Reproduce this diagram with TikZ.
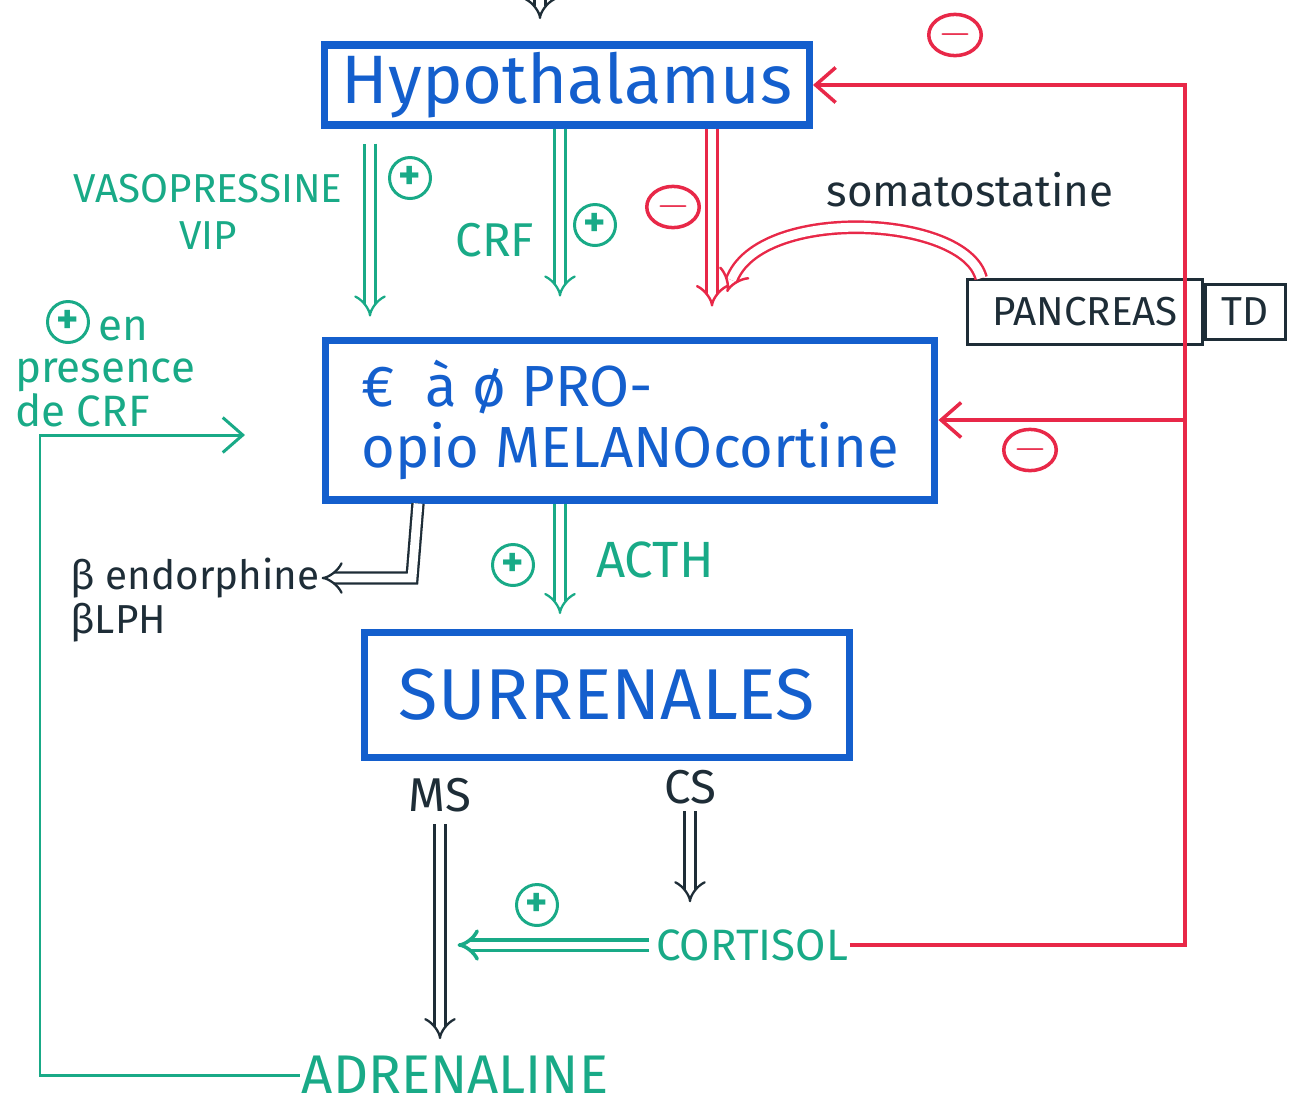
\documentclass[tikz,border=0pt]{standalone}
\usepackage{fontspec}
\setmainfont{Fira Sans}
\usetikzlibrary{arrows.meta,shapes.geometric,calc}
\definecolor{pblue}{RGB}{20,95,205}
\definecolor{pgreen}{RGB}{25,170,135}
\definecolor{pred}{RGB}{232,40,72}
\definecolor{pdark}{RGB}{30,45,55}
\tikzset{
  bigbox/.style={draw=pblue,line width=4pt,rectangle,text=pblue,inner sep=0pt},
  darkbox/.style={draw=pdark,line width=1.6pt,rectangle,text=pdark,inner sep=0pt},
  gdbl/.style={draw=pgreen,double=white,double distance=5pt,line width=1.3pt,-{Implies}},
  rdbl/.style={draw=pred,double=white,double distance=5pt,line width=1.4pt,-{Implies}},
  ddbl/.style={draw=pdark,double=white,double distance=5pt,line width=1.3pt,-{Implies}},
  gline/.style={draw=pgreen,line width=1.7pt},
  rline/.style={draw=pred,line width=2pt},
  plussign/.style={circle,draw=pgreen,line width=1.7pt,text=pgreen,inner sep=0pt,minimum size=0.82cm,font=\fontsize{24}{24}\selectfont\bfseries},
  minussign/.style={ellipse,draw=pred,line width=2pt,text=pred,inner sep=0pt,minimum width=1.05cm,minimum height=0.75cm,font=\fontsize{24}{24}\selectfont\bfseries},
  gtext/.style={text=pgreen,inner sep=1pt},
  dtext/.style={text=pdark,inner sep=1pt},
}
\begin{document}
\begin{tikzpicture}[x=0.02cm,y=-0.02cm]
\useasboundingbox (0,0) rectangle (1300,1106);
% boxes
\node[bigbox,minimum width=9.7cm,minimum height=1.6cm,font=\fontsize{39}{39}\selectfont] (hyp) at (567,85) {Hypothalamus};
\node[bigbox,minimum width=12.2cm,minimum height=3.2cm,align=left,font=\fontsize{33}{35}\selectfont] (pomc) at (630,420) {€\ \ à ø PRO-\\opio MELANOcortine};
\node[bigbox,minimum width=9.7cm,minimum height=2.5cm,font=\fontsize{41}{41}\selectfont] (sur) at (607,695) {SURRENALES};
\node[darkbox,minimum width=4.7cm,minimum height=1.3cm,font=\fontsize{23}{23}\selectfont] (panc) at (1085,312) {PANCREAS};
\node[darkbox,minimum width=1.6cm,minimum height=1.1cm,font=\fontsize{23}{23}\selectfont,anchor=west] (td) at (panc.east) {TD};
% labels
\node[gtext,align=center,font=\fontsize{23}{27}\selectfont] (vaso) at (208,212) {VASOPRESSINE\\VIP};
\node[gtext,font=\fontsize{27}{27}\selectfont] (crf) at (495,240) {CRF};
\node[dtext,font=\fontsize{25}{25}\selectfont] (soma) at (970,190) {somatostatine};
\node[gtext,align=left,font=\fontsize{25}{24}\selectfont] (enp) at (105,372) {\hspace*{1.9em}en\\presence\\de CRF};
\node[dtext,align=left,font=\fontsize{23}{25}\selectfont] (bend) at (195,600) {β endorphine\\βLPH};
\node[gtext,font=\fontsize{29}{29}\selectfont] (acth) at (655,560) {ACTH};
\node[dtext,font=\fontsize{27}{27}\selectfont] (ms) at (440,795) {MS};
\node[dtext,font=\fontsize{27}{27}\selectfont] (cs) at (690,787) {CS};
\node[gtext,font=\fontsize{25}{25}\selectfont] (cort) at (752,945) {CORTISOL};
\node[gtext,font=\fontsize{31}{31}\selectfont] (adr) at (455,1075) {ADRENALINE};
% signs
\node[plussign] (p1) at (410,178) {+};
\node[plussign] (p2) at (595,225) {+};
\node[plussign] (p3) at (68,322) {+};
\node[plussign] (p4) at (513,565) {+};
\node[plussign] (p5) at (537,905) {+};
\node[minussign] (m1) at (673,207) {$-$};
\node[minussign] (m2) at (955,35) {$-$};
\node[minussign] (m3) at (1030,450) {$-$};
% helper coordinates
\coordinate (top) at (540,-12);
\coordinate (cV) at (370,0);
\coordinate (cC) at (560,0);
\coordinate (cR) at (712,0);
\coordinate (merge) at (727,292);
\coordinate (fbx) at (1185,0);
\coordinate (lcorner) at (40,1075);
\coordinate (pin) at (245,435);
\coordinate (bx) at (418,0);
\coordinate (bcorner) at (412,578);
\coordinate (cA) at (560,0);
% connectors
\draw[ddbl,shorten >=0.45cm] (top) -- (top |- hyp.north);
\draw[gdbl,shorten <=0.3cm,shorten >=0.4cm] (cV |- hyp.south) -- (cV |- pomc.north);
\draw[gdbl,shorten >=0.8cm] (cC |- hyp.south) -- (cC |- pomc.north);
\draw[rdbl,shorten >=0.6cm] (cR |- hyp.south) -- (cR |- pomc.north);
\draw[rdbl] ($(panc.north west)+(15,0)$) .. controls (965,215) and (760,205) .. (merge);
\draw[rline,-{Straight Barb[length=4mm,width=7mm]}] (cort.east) -| (fbx |- hyp.east) -- (hyp.east);
\draw[rline,-{Straight Barb[length=4mm,width=7mm]}] (fbx |- pomc.east) -- (pomc.east);
\draw[gline,-{Straight Barb[length=4mm,width=7mm]}] (adr.west) -- (lcorner) |- (pin);
\draw[ddbl] (bx |- pomc.south) -- (bcorner) -- (bend.east |- bcorner);
\draw[gdbl,shorten >=0.3cm] (cA |- pomc.south) -- (cA |- sur.north);
\draw[ddbl,shorten <=0.2cm,shorten >=0.3cm] (ms.south) -- (ms.south |- adr.north);
\draw[ddbl,shorten <=0.1cm,shorten >=0.5cm] (cs.south) -- (cs.south |- cort.north);
\draw[gdbl,line width=2pt,double distance=4pt,shorten <=0.1cm,shorten >=0.35cm] (cort.west) -- (cort.west -| ms.south);
\end{tikzpicture}
\end{document}
